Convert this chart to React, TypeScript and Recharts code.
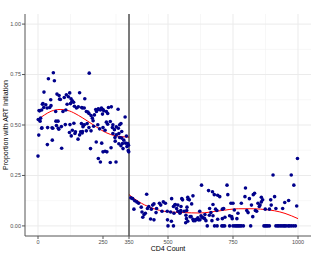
import {
  ComposedChart,
  Scatter,
  Line,
  XAxis,
  YAxis,
  CartesianGrid,
  ReferenceLine,
} from "recharts";

// CD4 count / proportion pairs, below and above the 350 cutoff
const below: [number, number][] = [
  [0, 0.346], [1, 0.527], [3, 0.45], [4, 0.572], [6, 0.57], [8, 0.519], [10, 0.534], [14, 0.574], [14, 0.484],
  [15, 0.486], [17, 0.603], [19, 0.606], [22, 0.587], [23, 0.663], [30, 0.6], [35, 0.584], [36, 0.403], [37, 0.487],
  [40, 0.729], [45, 0.587], [49, 0.625], [50, 0.596], [54, 0.486], [55, 0.425], [57, 0.484], [59, 0.759], [63, 0.719],
  [68, 0.567], [69, 0.519], [71, 0.497], [73, 0.653], [77, 0.519], [78, 0.484], [80, 0.479], [81, 0.646], [83, 0.628],
  [86, 0.626], [90, 0.492], [91, 0.385], [96, 0.567], [101, 0.636], [105, 0.502], [107, 0.574], [109, 0.65], [112, 0.603],
  [117, 0.64], [121, 0.463], [122, 0.659], [123, 0.502], [125, 0.606], [127, 0.63], [128, 0.446], [130, 0.615], [132, 0.62],
  [132, 0.474], [137, 0.613], [138, 0.509], [140, 0.593], [142, 0.458], [144, 0.466], [148, 0.584], [154, 0.43], [155, 0.59],
  [160, 0.451], [160, 0.66], [164, 0.466], [167, 0.507], [168, 0.587], [170, 0.46], [171, 0.584], [171, 0.468], [173, 0.491],
  [175, 0.499], [178, 0.584], [178, 0.501], [180, 0.63], [186, 0.567], [186, 0.471], [189, 0.507], [192, 0.564], [196, 0.557],
  [196, 0.487], [197, 0.757], [202, 0.383], [204, 0.547], [204, 0.471], [209, 0.534], [212, 0.521], [214, 0.494], [217, 0.55],
  [222, 0.577], [224, 0.416], [225, 0.567], [230, 0.501], [230, 0.577], [232, 0.58], [232, 0.334], [237, 0.481], [240, 0.574],
  [240, 0.317], [244, 0.584], [245, 0.41], [248, 0.554], [250, 0.577], [250, 0.487], [250, 0.367], [253, 0.57], [258, 0.474],
  [258, 0.37], [263, 0.567], [263, 0.514], [265, 0.367], [268, 0.557], [268, 0.504], [271, 0.587], [278, 0.517], [278, 0.314],
  [281, 0.387], [282, 0.59], [286, 0.487], [288, 0.501], [288, 0.458], [294, 0.477], [296, 0.438], [297, 0.42], [300, 0.317],
  [301, 0.491], [301, 0.451], [308, 0.578], [309, 0.484], [311, 0.458], [311, 0.407], [314, 0.501], [314, 0.438], [319, 0.507],
  [319, 0.397], [322, 0.468], [322, 0.435], [325, 0.408], [327, 0.383], [330, 0.425], [335, 0.54], [337, 0.41], [340, 0.445],
  [342, 0.393], [345, 0.408], [347, 0.373], [348, 0.4], [349, 0.367],
];

const above: [number, number][] = [
  [357, 0.139], [364, 0.135], [369, 0.083], [372, 0.125], [380, 0.119], [387, 0.112], [397, 0.093], [400, 0.069], [403, 0.043],
  [408, 0.056], [413, 0.063], [418, 0.157], [421, 0.086], [426, 0.096], [433, 0.034], [436, 0.083], [441, 0.103], [446, 0.109],
  [446, 0.03], [454, 0.066], [456, 0.086], [467, 0.112], [472, 0.103], [477, 0.073], [482, 0.119], [490, 0.112], [497, 0.073],
  [498, 0.03], [500, 0], [510, 0.069], [514, 0.135], [513, 0.023], [521, 0.096], [521, 0], [523, 0.063], [526, 0.103],
  [528, 0.106], [533, 0.086], [538, 0.103], [538, 0.073], [546, 0.063], [548, 0.069], [549, 0.076], [550, 0.096], [553, 0.135],
  [556, 0.129], [562, 0.073], [568, 0.016], [569, 0.053], [571, 0.036], [572, 0.076], [573, 0.093], [576, 0.142], [576, 0.023],
  [577, 0.132], [582, 0.129], [585, 0.046], [589, 0.046], [591, 0.109], [596, 0.149], [596, 0.033], [598, 0.026], [604, 0.026],
  [605, 0.03], [609, 0.033], [615, 0.04], [617, 0.03], [622, 0.073], [623, 0.03], [627, 0.05], [629, 0.202], [631, 0.043],
  [635, 0.04], [641, 0.036], [642, 0.056], [646, 0.026], [651, 0], [656, 0.175], [659, 0.053], [660, 0.086], [665, 0.066],
  [669, 0.026], [671, 0.169], [673, 0.106], [673, 0.05], [678, 0.155], [679, 0], [683, 0.083], [688, 0.076], [689, 0],
  [691, 0.152], [691, 0.033], [699, 0.145], [707, 0], [709, 0.083], [709, 0.036], [712, 0], [714, 0.086], [718, 0],
  [719, 0.043], [727, 0.202], [730, 0.155], [737, 0.05], [737, 0], [742, 0.112], [745, 0.046], [747, 0.036], [750, 0.112],
  [750, 0], [755, 0.079], [757, 0], [762, 0], [765, 0.036], [767, 0], [769, 0.063], [772, 0], [777, 0], [782, 0.112],
  [782, 0], [790, 0], [796, 0.145], [798, 0.188], [803, 0.076], [808, 0.066], [813, 0.135], [818, 0], [821, 0.103],
  [826, 0.046], [828, 0.155], [833, 0.162], [836, 0.076], [841, 0.073], [846, 0.112], [851, 0.096], [854, 0.103], [859, 0.142],
  [859, 0.119], [864, 0.129], [869, 0], [874, 0.083], [874, 0], [879, 0], [884, 0], [890, 0.083], [890, 0], [895, 0.129],
  [897, 0.103], [904, 0.252], [910, 0.145], [915, 0.086], [915, 0], [921, 0], [926, 0], [932, 0], [938, 0], [941, 0.086],
  [944, 0], [949, 0.116], [949, 0], [954, 0], [962, 0], [964, 0.126], [967, 0], [974, 0.252], [974, 0], [982, 0],
  [984, 0.202], [990, 0], [995, 0.099], [998, 0.334],
];

// smoothed fit
const fitBelow: [number, number][] = [
  [0, 0.527], [25, 0.55], [50, 0.568], [85, 0.577], [120, 0.57], [155, 0.548], [190, 0.52], [225, 0.49],
  [260, 0.463], [300, 0.446], [350, 0.44],
];
const fitAbove: [number, number][] = [
  [350, 0.155], [385, 0.122], [435, 0.09], [500, 0.07], [560, 0.066], [620, 0.064], [700, 0.075], [770, 0.085],
  [830, 0.085], [880, 0.08], [910, 0.075], [950, 0.062], [1000, 0.036],
];

const xTicks = [0, 250, 350, 500, 750, 1000];
const xMinor = [125, 300, 425, 625, 875];
const yTicks = [0, 0.25, 0.5, 0.75, 1];
const yMinor = [0.125, 0.375, 0.625, 0.875];

const toRows = (pts: [number, number][]) => pts.map(([x, y]) => ({ x, y }));

const font = "'Liberation Sans', Arial, sans-serif";
const tickStyle = { fontSize: 5.5, fill: "#4d4d4d", fontFamily: font };

const Dot = (p: any) => <circle cx={p.cx} cy={p.cy} r={1.8} fill="#00008B" />;

export default function App() {
  return (
    <div style={{ position: "absolute", left: 0, top: 0, background: "#fff" }}>
      <ComposedChart
        width={315}
        height={256}
        margin={{ top: 14, right: 4, left: 0, bottom: 0 }}
      >
        <CartesianGrid
          verticalValues={xMinor}
          horizontalValues={yMinor}
          stroke="#f2f2f2"
          strokeWidth={0.6}
        />
        <CartesianGrid
          verticalValues={xTicks}
          horizontalValues={yTicks}
          stroke="#ebebeb"
          strokeWidth={1}
        />
        <XAxis
          dataKey="x"
          type="number"
          domain={[-50, 1050]}
          allowDataOverflow
          ticks={xTicks}
          height={20}
          tick={tickStyle}
          tickSize={3}
          tickMargin={1}
          axisLine={{ stroke: "#555" }}
          tickLine={{ stroke: "#555" }}
          label={{
            value: "CD4 Count",
            position: "insideBottom",
            offset: 5,
            style: { fontSize: 7, fill: "#000", fontFamily: font },
          }}
        />
        <XAxis
          xAxisId="top"
          orientation="top"
          type="number"
          domain={[-50, 1050]}
          height={0}
          tick={false}
          tickLine={false}
          axisLine={{ stroke: "#555" }}
        />
        <YAxis
          dataKey="y"
          type="number"
          domain={[-0.05, 1.05]}
          allowDataOverflow
          ticks={yTicks}
          width={25}
          tick={tickStyle}
          tickSize={3}
          tickMargin={1}
          tickFormatter={(v: number) => v.toFixed(2)}
          axisLine={{ stroke: "#555" }}
          tickLine={{ stroke: "#555" }}
          label={{
            value: "Proportion with ART Initiation",
            angle: -90,
            position: "insideLeft",
            offset: 6,
            style: { fontSize: 7, fill: "#000", fontFamily: font, textAnchor: "middle" },
          }}
        />
        <YAxis
          yAxisId="right"
          orientation="right"
          type="number"
          domain={[-0.05, 1.05]}
          width={0}
          tick={false}
          tickLine={false}
          axisLine={{ stroke: "#555" }}
        />
        <Scatter data={toRows(below)} shape={Dot} isAnimationActive={false} />
        <Scatter data={toRows(above)} shape={Dot} isAnimationActive={false} />
        <Line
          data={toRows(fitBelow)}
          dataKey="y"
          type="monotone"
          stroke="#ff0000"
          strokeWidth={1}
          dot={false}
          isAnimationActive={false}
        />
        <Line
          data={toRows(fitAbove)}
          dataKey="y"
          type="monotone"
          stroke="#ff0000"
          strokeWidth={1}
          dot={false}
          isAnimationActive={false}
        />
        <ReferenceLine x={350} stroke="#000" strokeWidth={1} />
      </ComposedChart>
    </div>
  );
}
